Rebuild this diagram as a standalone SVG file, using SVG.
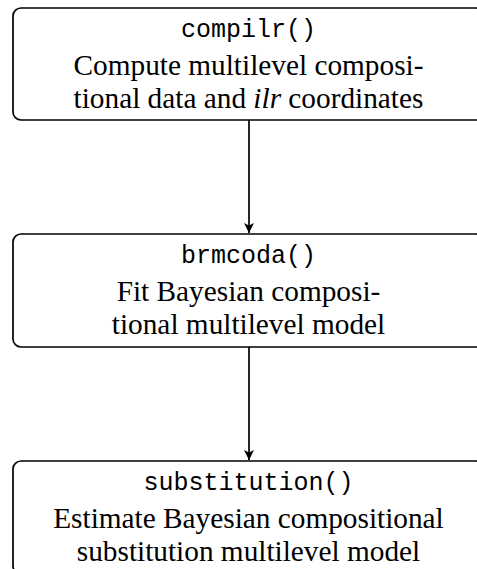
<svg xmlns="http://www.w3.org/2000/svg" width="477" height="569" viewBox="0 0 477 569">
<defs>
<marker id="arr" viewBox="0 0 10 10" refX="10" refY="5" markerWidth="10" markerHeight="10" markerUnits="userSpaceOnUse" orient="auto">
<path d="M0,0 L10,5 L0,10 L2.5,5 Z" fill="#000"/>
</marker>
</defs>
<style>
.box{fill:#fff;stroke:#000;stroke-width:1.7}
.tt{font-family:"Liberation Mono","DejaVu Sans Mono",monospace;font-size:25px;text-anchor:middle;fill:#000}
.rm{font-family:"Liberation Serif","Times New Roman",serif;font-size:29.3px;text-anchor:middle;fill:#000}
.it{font-style:italic}
.edge{stroke:#000;stroke-width:1.7;fill:none}
</style>
<rect width="477" height="569" fill="#fff"/>
<g id="edges">
<line class="edge" x1="249" y1="120" x2="249" y2="233" marker-end="url(#arr)"/>
<line class="edge" x1="249" y1="347" x2="249" y2="460" marker-end="url(#arr)"/>
</g>
<g id="compilr">
<rect class="box" x="13" y="8" width="471" height="112" rx="8"/>
<text class="tt" x="248.5" y="37">compilr()</text>
<text class="rm" x="248.5" y="75">Compute multilevel composi-</text>
<text class="rm" x="248.5" y="108">tional data and <tspan class="it">ilr</tspan><tspan> coordinates</tspan></text>
</g>
<g id="brmcoda">
<rect class="box" x="13" y="234" width="471" height="113" rx="8"/>
<text class="tt" x="248.5" y="263">brmcoda()</text>
<text class="rm" x="248.5" y="301">Fit Bayesian composi-</text>
<text class="rm" x="248.5" y="334">tional multilevel model</text>
</g>
<g id="substitution">
<rect class="box" x="13" y="461" width="471" height="113" rx="8"/>
<text class="tt" x="248.5" y="490">substitution()</text>
<text class="rm" x="248.5" y="528">Estimate Bayesian compositional</text>
<text class="rm" x="248.5" y="561">substitution multilevel model</text>
</g>
</svg>
